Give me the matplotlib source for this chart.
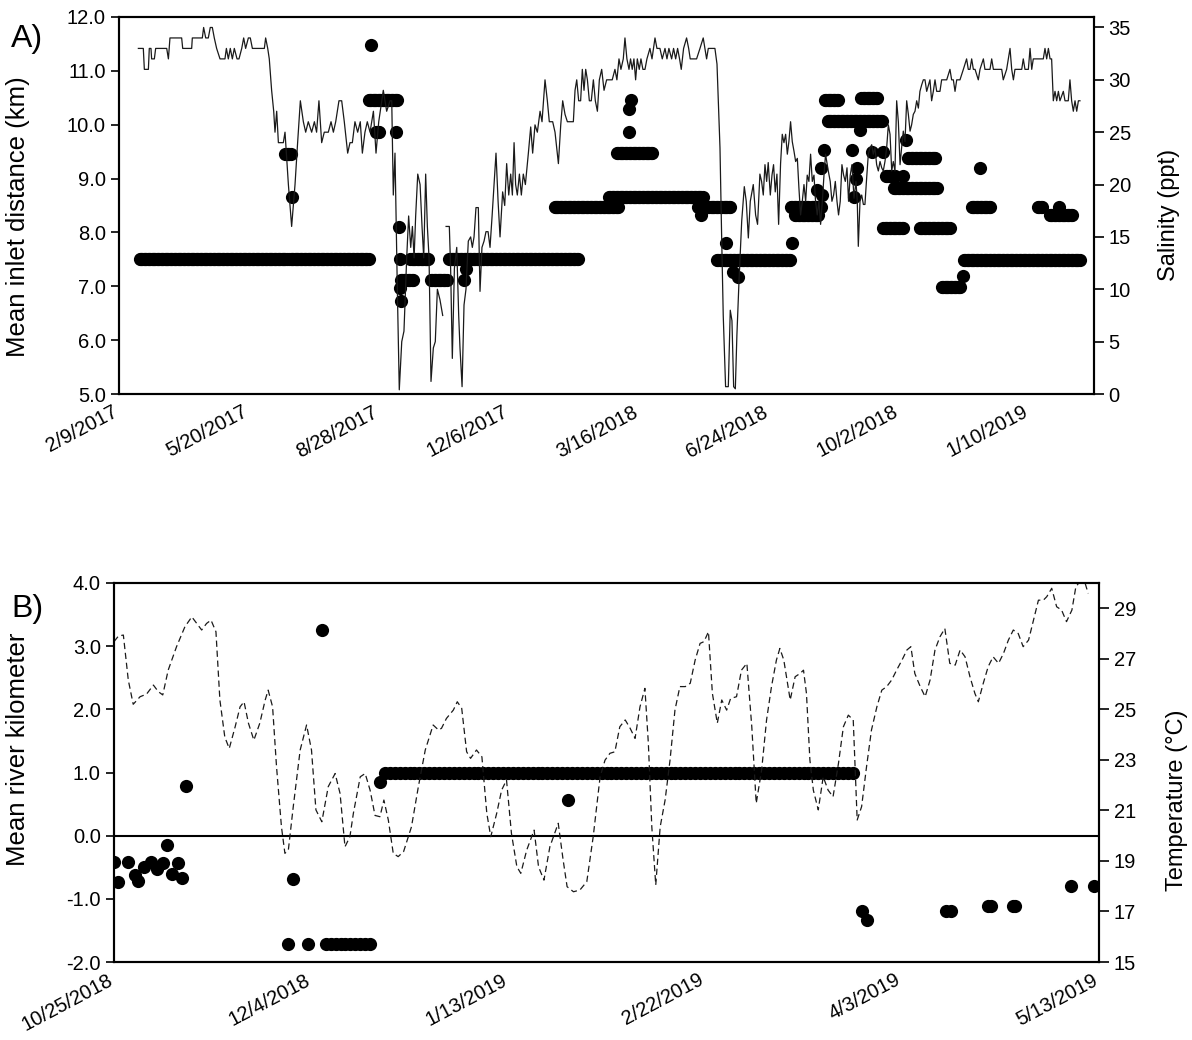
import matplotlib.pyplot as plt
import matplotlib.transforms as mtransforms
import numpy as np
import pandas as pd

plt.rcParams['font.family'] = ['Liberation Sans', 'DejaVu Sans']

# ---------------- A) salinity (days after 2/9/2017) ----------------
sal_day = [14.9, 18.7, 19.5, 22.6, 23.3, 24.6, 25.1, 27.2, 28.2, 36.7, 38.0, 39.2, 48.2, 49.0, 55.9, 56.4,
           64.1, 65.1, 66.7, 68.7, 70.2, 71.8, 73.3, 75.1, 77.7, 81.5, 82.6, 84.1, 85.6, 87.2, 88.7, 90.8,
           92.3, 94.4, 95.9, 97.4, 99.5, 101.0, 102.6, 104.6, 109.7, 111.8, 112.8, 114.4, 115.6, 117.4,
           119.0, 120.0, 121.3, 122.6, 126.4, 127.7, 130.3, 132.8, 135.4, 137.4, 139.5, 141.8, 143.6,
           145.6, 148.2, 150.3, 152.0, 153.8, 155.9, 157.9, 161.0, 163.1, 164.9, 166.7, 169.2, 171.3,
           173.3, 175.9, 177.7, 179.5, 181.5, 183.6, 185.6, 187.2, 189.2, 191.0, 193.1, 195.7, 197.7,
           199.8, 202.1, 203.3, 205.9, 208.5, 209.8, 211.0, 212.3, 214.1, 215.6, 217.5, 219.2, 221.3,
           222.8, 224.4, 225.7, 227.0, 228.2, 229.8, 231.6, 233.1, 234.4, 235.9, 237.2, 238.5, 240.0,
           241.8, 243.3, 244.9, 246.9, 249.0, 250.3, 251.6, 254.1, 255.1, 256.4, 258.0, 259.8, 261.3,
           262.3, 263.9, 265.4, 266.9, 268.7, 270.5, 271.8, 273.1, 274.6, 276.4, 277.7, 279.2, 280.8,
           282.3, 283.9, 285.4, 287.0, 288.5, 290.0, 291.6, 293.1, 295.1, 296.7, 298.2, 299.8, 301.3,
           302.6, 303.9, 305.1, 306.4, 308.0, 309.5, 311.0, 312.6, 314.9, 316.7, 318.2, 320.0, 321.8,
           323.9, 325.4, 327.7, 329.5, 331.0, 333.6, 335.4, 338.0, 339.8, 341.3, 343.1, 344.9, 349.5,
           350.8, 352.1, 353.6, 355.1, 356.4, 357.7, 359.0, 360.3, 361.8, 363.3, 364.9, 366.4, 368.0,
           369.5, 371.3, 373.1, 375.1, 376.4, 379.4, 381.5, 383.0, 384.6, 386.1, 387.9, 389.2, 390.7,
           392.3, 393.5, 394.8, 396.1, 397.4, 398.7, 400.2, 401.5, 403.0, 404.6, 406.1, 408.4, 410.0,
           412.3, 413.8, 416.1, 417.9, 420.0, 421.5, 423.0, 425.1, 426.6, 428.2, 429.7, 431.2, 432.5,
           434.3, 436.6, 438.2, 439.4, 444.3, 446.9, 449.4, 450.7, 452.0, 453.3, 458.4, 460.0, 461.0,
           462.3, 463.5, 464.8, 466.6, 468.7, 470.2, 471.5, 472.8, 474.1, 475.3, 476.9, 479.0, 481.0,
           482.5, 484.1, 485.6, 487.9, 489.7, 491.2, 493.0, 494.3, 495.6, 496.9, 498.2, 499.4, 501.0,
           502.3, 503.5, 504.8, 506.1, 507.4, 508.9, 510.2, 511.5, 512.8, 514.1, 515.3, 516.6, 517.9,
           519.2, 520.5, 521.8, 523.0, 524.3, 525.6, 526.9, 528.2, 529.4, 530.7, 532.0, 533.3, 534.6,
           535.8, 537.1, 538.4, 539.7, 541.0, 542.3, 543.5, 545.6, 547.1, 548.4, 549.7, 551.0, 552.3,
           553.5, 554.8, 556.1, 557.4, 558.7, 560.0, 561.2, 562.5, 563.8, 565.4, 566.9, 567.9, 568.7,
           570.0, 571.3, 572.6, 573.8, 575.1, 576.4, 577.7, 579.0, 580.2, 581.5, 582.8, 584.1, 585.4,
           586.7, 587.9, 589.2, 590.5, 591.8, 593.1, 594.4, 595.6, 596.9, 598.2, 599.5, 600.8, 602.0,
           603.3, 604.6, 605.9, 607.2, 608.5, 609.7, 611.0, 612.3, 613.6, 614.9, 616.1, 617.4, 618.7,
           620.0, 621.3, 623.8, 625.1, 626.4, 627.7, 629.0, 631.5, 632.8, 636.7, 639.2, 640.5, 641.8,
           643.1, 644.4, 646.9, 649.5, 652.0, 653.3, 654.6, 655.9, 657.2, 658.5, 661.0, 662.3, 664.9,
           666.1, 670.0, 671.3, 672.6, 679.0, 680.2, 682.8, 684.1, 685.4, 686.7, 688.0, 689.2, 694.4,
           695.6, 696.9, 699.5, 700.8, 702.1, 703.3, 711.0, 712.3, 713.6, 714.9, 716.2, 717.4, 718.7,
           720.0, 721.3, 722.6, 723.8, 726.4, 727.7, 730.2, 731.5, 732.8, 734.1, 735.4, 736.7, 738.0,
           739.2]
sal_ppt = [33, 33, 31, 31, 33, 33, 32, 32, 33, 33, 32, 34, 34, 33, 33, 34,
           34, 35, 34, 34, 35, 35, 34, 33, 32, 32, 33, 32, 33, 32, 33, 32,
           32, 33, 34, 33, 34, 34, 33, 33, 33, 33, 34, 33, 32, 29,
           27, 25, 27, 24, 24, 25, 20, 16, 20, 24, 28, 26, 25,
           26, 25, 26, 25, 28, 24, 25, 25, 26, 25, 26, 28, 28,
           26, 23, 24, 24, 26, 25, 26, 23, 25, 26, 25, 27, 23,
           26, 28, 29, 27, 28, 28, 19, 23, 10, 0.4, 5, 6, 13,
           17, 14, 16, 13, 17, 21, 20, 16, 13, 21, 16, 13, 1.2,
           4.4, 5, 10, 9, 7.5, np.nan, 16, 16, 12, 3.4, 12, 14, 7.5,
           4.4, 0.7, 8.5, 10, 14.6, 15, 14, 15, 17.8, 17.8, 9.8, 14, 14.6,
           15.5, 15.5, 14, 17, 20, 23, 18.4, 15, 19.3, 18, 22, 19, 21,
           19, 24, 20, 19, 21, 19, 21, 20, 23, 25.5, 23, 25.7, 25,
           27, 26, 30, 28, 26, 26, 25, 22, 25.7, 28, 26.7, 26, 26,
           29, 30, 28, 28, 31, 29, 31, 30, 28, 28, 30, 28, 27,
           30, 31, 29, 30, 30, 30, 31, 30, 32, 31, 32, 34, 32,
           31, 32, 31, 32, 30, 32, 31, 32, 31, 31, 32, 33, 32,
           34, 33, 33, 32, 33, 32, 33, 32, 33, 32, 33, 32, 31,
           33, 34, 33, 32, 32, 33, 34, 33, 32, 33, 33, 31.5, 28,
           23.5, 15.5, 7.5, 0.7, 0.7, 8, 7, 0.7, 0.5, 5.6, 10.7, 16.5, 19.8,
           18.4, 14.9, 18.4, 20, 17.1, 16.2, 21, 20.3, 19, 21.9, 20.3, 22.1, 19,
           20.9, 21.9, 19.3, 21, 16.2, 22, 24.8, 24, 24.8, 22.9, 24.1, 26, 24.1,
           23.2, 22.2, 22.5, 19.7, 17.1, 18.4, 20, 18.4, 20.9, 20.3, 22.9, 20.3, 20.9,
           18.4, 17.1, 18.4, 16.2, 18.4, 20.9, 22.9, 21.3, 20.3, 18.4, 19, 20.3, 18.4,
           17.1, 18.4, 21.9, 20.9, 20.3, 21.6, 18.4, 20.9, 21.9, 18.7, 20.3, 18.4, 14.1,
           18.4, 19, 18.1, 18.1, 20.6, 22.9, 23.5, 23.8, 22.9, 23.5, 21.9, 21.3, 22.2,
           21.6, 21.3, 22.2, 23.5, 25.7, 24.8, 21.3, 22.2, 21.3, 28, 26, 21.9, 23.5,
           25.1, 24.1, 28, 26.7, 25.1, 25.7, 26.7, 27, 28, 27.3, 28.9, 29.5, 30,
           30, 28.9, 30, 28, 28.9, 30, 28.9, 28.9, 30, 30, 31, 30, 30,
           28.9, 30, 30, 31, 32, 31, 31, 32, 31, 31, 30, 31, 32,
           31, 31, 32, 31, 31, 30, 31, 32, 33, 31, 30, 31, 31,
           32, 31, 31, 33, 31, 32, 32, 33, 32, 33, 32, 32, 28,
           28.9, 28, 28.9, 28, 28.9, 28, 28, 30, 28, 27, 28, 27, 28,
           28]

# A) mean inlet distance, runs of daily values: start day, end day, km
a_start = [16, 131, 128, 133, 192, 194, 198, 213, 215, 216, 217, 216, 217, 224, 240, 254, 265, 267,
           335, 377, 383, 392, 392, 394, 445, 448, 460, 467, 472, 476, 518, 517, 520, 533, 537, 540,
           541, 542, 543, 545, 564, 565, 567, 568, 570, 571, 579, 588, 588, 590, 596, 603, 605, 607,
           616, 633, 649, 650, 656, 662, 707, 716, 723]
a_end = [129, 192, 132, 133, 214, 194, 200, 213, 215, 216, 226, 216, 217, 238, 252, 353, 265, 267,
         384, 449, 410, 392, 392, 394, 470, 448, 516, 467, 472, 476, 518, 530, 538, 540, 537, 540,
         541, 542, 553, 587, 564, 565, 567, 568, 570, 583, 579, 588, 603, 597, 629, 603, 605, 628,
         639, 647, 649, 739, 670, 662, 710, 733, 723]
a_km = [7.5, 7.5, 9.45, 8.66, 10.46, 11.48, 9.87, 9.87, 8.11, 7.5, 7.12, 6.96, 6.73, 7.5, 7.12, 7.5, 7.12, 7.33,
        8.48, 8.66, 9.47, 9.87, 10.3, 10.46, 8.48, 8.32, 7.48, 7.8, 7.27, 7.18, 7.8, 8.48, 8.32, 8.48, 8.79, 9.19,
        8.7, 9.53, 10.46, 10.06, 9.53, 8.66, 9.0, 9.2, 9.9, 10.49, 9.5, 9.5, 8.08, 9.04, 8.82, 9.04, 9.72, 9.38,
        8.08, 6.99, 7.19, 7.48, 8.48, 9.19, 8.48, 8.32, 8.48]

# ---------------- B) temperature (days after 10/25/2018) ----------------
temp_day = [0, 0.9, 1.9, 2.9, 3.9, 5.3, 6.6, 8.0, 9.0, 9.9, 11.0, 12.7, 14.4, 15.8, 16.8, 17.8, 18.8,
            19.7, 20.7, 21.5, 22.5, 23.4, 24.6, 25.6, 26.4, 27.3, 28.4, 29.6, 30.7, 31.3, 32.2, 33.0,
            34.0, 34.7, 35.4, 36.4, 37.8, 39.1, 40.1, 41.0, 42.2, 43.5, 44.9, 45.9, 46.9, 47.9, 48.6,
            50.0, 51.0, 52.0, 53.0, 54.0, 54.8, 55.7, 56.7, 57.7, 58.8, 60.4, 61.8, 63.2, 64.8, 65.9,
            66.5, 67.5, 68.9, 69.7, 70.6, 71.6, 72.4, 73.6, 74.7, 75.7, 76.5, 77.7, 78.7, 79.7, 80.7,
            81.8, 82.6, 83.8, 85.3, 86.2, 87.3, 88.5, 90.2, 91.2, 92.0, 93.3, 94.6, 96.0, 97.3, 98.7,
            99.7, 100.7, 101.7, 102.7, 103.8, 104.8, 105.8, 106.8, 107.8, 108.5, 109.2, 110.0, 110.9,
            111.9, 112.9, 113.9, 114.9, 116.0, 117.0, 118.0, 119.0, 119.8, 120.7, 121.5, 122.5, 123.4,
            124.4, 125.2, 126.4, 127.4, 128.5, 129.5, 130.4, 131.5, 132.5, 133.5, 134.5, 135.2, 136.0,
            137.3, 138.3, 139.3, 140.0, 140.6, 141.3, 142.0, 143.0, 144.0, 145.0, 146.0, 147.1, 148.1,
            149.1, 150.1, 150.9, 151.8, 152.8, 153.8, 154.9, 155.9, 156.9, 157.9, 158.9, 160.0, 161.0,
            161.8, 162.6, 163.7, 164.7, 165.7, 166.7, 167.7, 168.7, 169.7, 170.8, 171.8, 172.8, 173.8,
            174.8, 175.5, 176.5, 177.5, 178.5, 179.6, 180.6, 181.6, 182.6, 183.6, 184.6, 185.7, 186.7,
            187.7, 188.7, 189.4, 190.4, 191.4, 192.4, 193.4, 194.5, 195.3, 196.1, 197.2, 197.8]
temp_c = [27.68, 27.9, 27.94, 26.16, 25.2, 25.5, 25.6, 25.96, 25.7, 25.57, 26.55, 27.48, 28.27, 28.66, 28.4,
          28.14, 28.4, 28.53, 28.07, 25.37, 23.9, 23.45, 24.31, 25.1, 25.3, 24.45, 23.78, 24.45, 25.37,
          25.76, 25.1, 22.73, 20.35, 19.3, 19.43, 21.15, 23.39, 24.38, 23.39, 21.02, 20.55, 21.94, 22.46,
          21.67, 19.56, 19.96, 20.88, 22.33, 22.46, 21.8, 20.8, 20.75, 21.41, 20.62, 19.3, 19.17, 19.37,
          20.35, 21.94, 23.39, 24.38, 24.18, 24.25, 24.64, 24.97, 25.3, 25.04, 23.32, 23.06, 23.39, 23.12,
          20.88, 19.96, 20.88, 21.8, 22.2, 20.09, 18.77, 18.51, 19.43, 20.22, 18.77, 18.24, 19.56, 20.49,
          19.03, 17.98, 17.78, 17.85, 18.18, 19.96, 22.33, 22.99, 23.26, 23.32, 24.31, 24.58, 24.25, 23.85,
          25.1, 25.83, 23.65, 20.35, 18.05, 20.35, 21.41, 22.99, 24.97, 25.9, 25.9, 26.03, 26.95, 27.61,
          27.68, 28.07, 25.63, 24.45, 25.37, 24.97, 25.43, 25.5, 26.55, 26.82, 24.31, 21.28, 22.6, 24.58,
          25.9, 26.95, 27.41, 26.95, 25.37, 26.29, 26.42, 26.55, 25.63, 22.99, 21.8, 21.02, 22.33, 21.8,
          21.54, 22.86, 24.31, 24.77, 24.58, 20.62, 21.15, 22.73, 24.18, 25.1, 25.76, 25.9, 26.16, 26.55,
          26.95, 27.35, 27.48, 26.42, 25.9, 25.5, 26.16, 27.35, 27.87, 28.2, 26.82, 26.75, 27.35, 27.08,
          26.29, 25.63, 25.3, 26.03, 26.69, 27.08, 26.82, 27.21, 27.74, 28.14, 28.0, 27.48, 27.74, 28.53,
          29.32, 29.32, 29.46, 29.79, 29.06, 28.93, 28.47, 28.93, 29.85, 30.05, 29.98, 29.59]

# B) mean river kilometer: single points
b_day = [0, 0.9, 2.9, 4.3, 4.9, 6.0, 7.6, 8.8, 9.9, 10.7, 11.7, 12.9, 13.9, 14.6, 36.4, 42.2, 54.0,
         92.1, 151.8, 152.9, 169, 170, 177.5, 178, 182.5, 183, 194.3, 199]
b_km = [-0.41, -0.74, -0.41, -0.62, -0.71, -0.5, -0.41, -0.52, -0.44, -0.15, -0.6, -0.43, -0.67, 0.79,
        -0.69, 3.26, 0.85, 0.56, -1.19, -1.33, -1.19, -1.19, -1.11, -1.11, -1.11, -1.11, -0.8, -0.8]
# B) runs of daily values
b_start = [35.3, 39.4, 43, 55]
b_end = [35.3, 39.4, 52, 150]
b_run_km = [-1.71, -1.71, -1.71, 0.99]

# ---------------- build ----------------
base_a = pd.Timestamp('2017-02-09')
base_b = pd.Timestamp('2018-10-25')


def to_date(base, days):
    return base + pd.to_timedelta(np.asarray(days, dtype=float), unit='D')


def expand(starts, ends, vals):
    d, v = [], []
    for s, e, k in zip(starts, ends, vals):
        dd = np.arange(s, e + 0.5, 1.0)
        d.extend(dd)
        v.extend([k] * len(dd))
    return d, v


fig = plt.figure(figsize=(11.92, 10.4), dpi=100)
W, H = 1192, 1040
axA = fig.add_axes([119 / W, 1 - 394 / H, (1094 - 119) / W, (394 - 17) / H])
axB = fig.add_axes([114 / W, 1 - 962 / H, (1099 - 114) / W, (962 - 583) / H])

tick_fs = 14.5
left_fs = 18.5
right_fs = 17
shift = mtransforms.ScaledTranslation(-7 / 100, 0, fig.dpi_scale_trans)


def style(ax, axr):
    for a in (ax, axr):
        for s in a.spines.values():
            s.set_linewidth(1.5)
            s.set_color('black')
    ax.tick_params(axis='x', length=0, labelsize=tick_fs, pad=6)
    ax.tick_params(axis='y', direction='out', length=6, width=1.2, labelsize=tick_fs)
    axr.tick_params(axis='y', direction='out', length=7, width=1.2, labelsize=tick_fs)
    for lab in ax.get_xticklabels():
        lab.set_rotation(28)
        lab.set_ha('right')
        lab.set_rotation_mode('anchor')
        lab.set_transform(lab.get_transform() + shift)

# ----- panel A -----
axA2 = axA.twinx()
ad, av = expand(a_start, a_end, a_km)
axA.plot(to_date(base_a, ad), av, 'o', color='black', ms=9.5, mew=0, zorder=3)
axA2.plot(to_date(base_a, sal_day), sal_ppt, '-', color='#1a1a1a', lw=0.9)

axA.set_xlim(base_a, base_a + pd.Timedelta(days=750))
axA.set_ylim(5, 12)
axA.set_yticks(np.arange(5, 12.01, 1.0))
axA.set_yticklabels([f'{v:.1f}' for v in np.arange(5, 12.01, 1.0)])
axA2.set_ylim(0, 36)
axA2.set_yticks(range(0, 36, 5))
ticksA = [base_a + pd.Timedelta(days=100 * i) for i in range(8)]
axA.set_xticks(ticksA)
axA.set_xticklabels([f'{d.month}/{d.day}/{d.year}' for d in ticksA])
style(axA, axA2)
axA.set_ylabel('Mean inlet distance (km)', fontsize=left_fs)
axA.yaxis.set_label_coords((30 - 119) / 975, 0.47)
axA2.set_ylabel('Salinity (ppt)', fontsize=right_fs)
axA2.yaxis.set_label_coords((1158 - 119) / 975, 0.475)

# ----- panel B -----
axB2 = axB.twinx()
bd, bv = expand(b_start, b_end, b_run_km)
axB.plot(to_date(base_b, list(b_day) + bd), list(b_km) + bv, 'o', color='black', ms=9.5, mew=0, zorder=3)
axB.axhline(0, color='black', lw=1.5, zorder=2)
axB2.plot(to_date(base_b, temp_day), temp_c, color='#1a1a1a', lw=0.9, dashes=(5, 3))

axB.set_xlim(base_b, base_b + pd.Timedelta(days=200))
axB.set_ylim(-2, 4)
axB.set_yticks(np.arange(-2, 4.01, 1.0))
axB.set_yticklabels([f'{v:.1f}' for v in np.arange(-2, 4.01, 1.0)])
axB2.set_ylim(15, 30)
axB2.set_yticks(range(15, 30, 2))
ticksB = [base_b + pd.Timedelta(days=40 * i) for i in range(6)]
axB.set_xticks(ticksB)
axB.set_xticklabels([f'{d.month}/{d.day}/{d.year}' for d in ticksB])
style(axB, axB2)
axB.set_ylabel('Mean river kilometer', fontsize=left_fs)
axB.yaxis.set_label_coords((30 - 114) / 985, 0.56)
axB2.set_ylabel('Temperature (°C)', fontsize=right_fs)
axB2.yaxis.set_label_coords((1166 - 114) / 985, 0.427)

fig.text(11 / W, 1 - 47 / H, 'A)', fontsize=23)
fig.text(11 / W, 1 - 617 / H, 'B)', fontsize=23)

fig.savefig('out.png', dpi=100)
